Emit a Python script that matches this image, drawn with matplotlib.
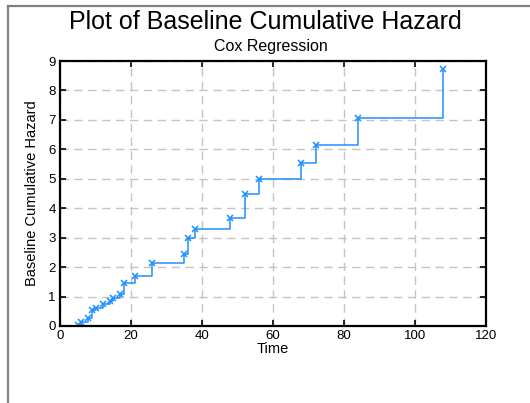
import matplotlib.pyplot as plt
from matplotlib.lines import Line2D

# data
times = [5, 6, 8, 9, 10, 12, 14, 15, 17, 18, 21, 26, 35, 36, 38, 48, 52, 56, 68, 72, 84, 108]
hazard = [0.05, 0.15, 0.28, 0.54, 0.61, 0.74, 0.85, 0.94, 1.09, 1.45, 1.69, 2.13,
          2.43, 3.0, 3.3, 3.68, 4.48, 4.98, 5.54, 6.16, 7.05, 8.72]
xticks = [0, 20, 40, 60, 80, 100, 120]
yticks = [0, 1, 2, 3, 4, 5, 6, 7, 8, 9]

plt.rcParams['font.family'] = ['Liberation Sans', 'DejaVu Sans']

fig = plt.figure(figsize=(5.3, 4.03), dpi=100)
ax = fig.add_axes([60 / 530, 1 - 326 / 403, 426 / 530, 265 / 403])

blue = '#1E90FF'
ax.step(times, hazard, where='post', color=blue, lw=1.1)
ax.plot(times, hazard, 'x', color=blue, ms=4.5, mew=1.1)

ax.set_xlim(0, 120)
ax.set_ylim(0, 9)
ax.set_xticks(xticks)
ax.set_yticks(yticks)
ax.grid(True, color='#c4c4c4', ls=(0, (6, 4)), lw=1)
ax.set_axisbelow(True)
ax.tick_params(direction='in', top=True, right=True, length=4, width=1.2,
               labelsize=9.5, pad=3)
for s in ax.spines.values():
    s.set_linewidth(1.6)

ax.set_xlabel('Time', fontsize=10.5, labelpad=0)
ax.set_ylabel('Baseline Cumulative Hazard', fontsize=10.5, labelpad=7)

fig.text(265 / 530, 1 - 22 / 403, 'Plot of Baseline Cumulative Hazard',
         ha='center', va='center', fontsize=18)
fig.text(271 / 530, 1 - 47 / 403, 'Cox Regression', ha='center', va='center',
         fontsize=11.5)

# outer frame lines (top and left)
fig.add_artist(Line2D([8 / 530, 1], [1 - 6 / 403, 1 - 6 / 403],
                      transform=fig.transFigure, color='#808080', lw=1.6))
fig.add_artist(Line2D([8 / 530, 8 / 530], [0, 1 - 6 / 403],
                      transform=fig.transFigure, color='#808080', lw=1.6))

fig.savefig('out.png', dpi=100)
